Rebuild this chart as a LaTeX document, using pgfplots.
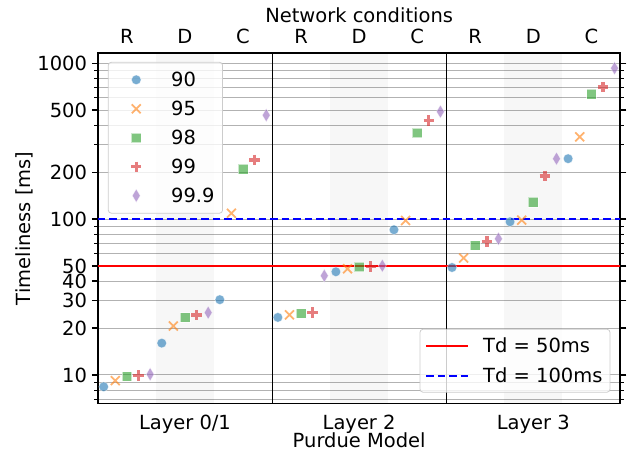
\documentclass[border=0pt]{standalone}
\usepackage{fontspec}
\setmainfont{DejaVu Sans}
\usepackage{pgfplots}
\pgfplotsset{compat=1.18}
\usetikzlibrary{calc}
\definecolor{tabblue}{HTML}{1F77B4}
\definecolor{taborange}{HTML}{FF7F0E}
\definecolor{tabgreen}{HTML}{2CA02C}
\definecolor{tabred}{HTML}{D62728}
\definecolor{tabpurple}{HTML}{9467BD}
\pgfplotsset{
  mk/.style={only marks, legend image code/.code={\path[draw=none,fill=none] (0pt,0pt) (55pt,0pt); \draw[sharp corners,##1] plot coordinates {(20pt,0pt)};}},
  ln/.style={legend image code/.code={\path[draw=none,fill=none] (0pt,0pt) (55.5pt,0pt); \draw[sharp corners,##1] (1pt,0pt) -- (43pt,0pt);}},
}
\begin{document}
\fontsize{19.5}{23.4}\selectfont
\begin{tikzpicture}
\begin{axis}[
  scale only axis, width=523pt, height=351pt,
  xmin=-0.5, xmax=44.5, ymode=log, ymin=6.55, ymax=1164,
  xtick={7,22,37}, xticklabels={Layer 0/1,Layer 2,Layer 3},
  xtick style={draw=none},
  xticklabel style={anchor=base, inner sep=0pt, yshift=-20pt},
  ytick={10,20,30,40,50,100,200,500,1000},
  yticklabels={10,20,30,40,50,100,200,500,1000},
  minor ytick={7,8,9,60,70,80,90,300,400,600,700,800,900},
  ymajorgrids, yminorgrids,
  major grid style={draw=black!30, line width=0.9pt},
  minor grid style={draw=black!30, line width=0.9pt},
  tick align=outside, major tick length=6pt, minor tick length=3.5pt,
  ytick style={line width=1.3pt, black},
  minor y tick style={line width=1pt},
  yticklabel style={anchor=east, inner sep=0pt, xshift=-4.7pt},
  axis line style={line width=1.8pt},
  xlabel={Purdue Model}, ylabel={Timeliness [ms]},
  xlabel style={at={(axis description cs:0.5,0)}, anchor=base, yshift=-44pt, inner sep=0pt},
  ylabel style={at={(axis description cs:-0.124,0.5)}, anchor=south, inner sep=0pt},
  legend cell align=left,
  legend style={at={(0.0191,0.9744)}, anchor=north west, draw=black!20, line width=0.8pt,
    rounded corners=3pt, fill=white, fill opacity=0.8, text opacity=1, draw opacity=1,
    inner xsep=8pt, inner ysep=10.5pt, row sep=15pt,
    nodes={inner sep=0pt, text height=14pt, text depth=0pt}},
]
% shaded D regions
\addplot[draw=none, fill=black, fill opacity=0.03, forget plot] coordinates {(4.5,6.55) (9.5,6.55) (9.5,1164) (4.5,1164)} -- cycle;
\addplot[draw=none, fill=black, fill opacity=0.03, forget plot] coordinates {(19.5,6.55) (24.5,6.55) (24.5,1164) (19.5,1164)} -- cycle;
\addplot[draw=none, fill=black, fill opacity=0.03, forget plot] coordinates {(34.5,6.55) (39.5,6.55) (39.5,1164) (34.5,1164)} -- cycle;
% layer separators
\addplot[black, line width=1pt, forget plot] coordinates {(14.5,6.55) (14.5,1164)};
\addplot[black, line width=1pt, forget plot] coordinates {(29.5,6.55) (29.5,1164)};
% thresholds
\addplot[red, line width=2.5pt, forget plot] coordinates {(-0.5,50) (44.5,50)};
\addplot[blue, line width=2pt, dash pattern=on 7.5pt off 4pt, forget plot] coordinates {(-0.5,100) (44.5,100)};
% percentiles
\addplot[mk, mark=*, mark size=4.8pt, mark options={fill=tabblue, draw=white, line width=0.5pt, opacity=0.6}]
  coordinates {(0,8.4) (5,16.0) (10,30.4) (15,23.4) (20,45.9) (25,85.4) (30,48.9) (35,96.1) (40,244)};
\addlegendentry{90}
\addplot[mk, mark=x, mark size=6.3pt, mark options={draw=taborange, line width=1.8pt, opacity=0.6}]
  coordinates {(1,9.2) (6,20.6) (11,109) (16,24.3) (21,48.0) (26,98) (31,56.2) (36,98.5) (41,337)};
\addlegendentry{95}
\addplot[mk, mark=square*, mark size=4.8pt, mark options={fill=tabgreen, draw=white, line width=0.5pt, opacity=0.6}]
  coordinates {(2,9.8) (7,23.4) (12,209) (17,24.8) (22,49.4) (27,357) (32,67.7) (37,128.5) (42,633)};
\addlegendentry{98}
\addplot[mk, mark=+, mark size=5.2pt, mark options={draw=tabred, line width=3.4pt, opacity=0.6}]
  coordinates {(3,9.94) (8,24.2) (13,240) (18,25.1) (23,49.7) (28,428) (33,71.9) (38,189.5) (43,702)};
\addlegendentry{99}
\addplot[mk, mark=diamond*, mark size=6.6pt, mark options={fill=tabpurple, draw=white, line width=0.5pt, opacity=0.6, xscale=0.8}]
  coordinates {(4,10.1) (9,25.1) (14,464) (19,43.3) (24,50.2) (29,489) (34,74.8) (39,244) (44,929)};
\addlegendentry{99.9}
\end{axis}
\begin{axis}[
  scale only axis, width=523pt, height=351pt,
  xmin=-0.5, xmax=44.5, ymode=log, ymin=6.55, ymax=1164,
  hide y axis,
  axis x line*=top,
  axis line style={line width=1.8pt},
  xtick={2,7,12,17,22,27,32,37,42}, xticklabels={R,D,C,R,D,C,R,D,C},
  xtick style={draw=none},
  xticklabel style={anchor=base, inner sep=0pt, yshift=9pt},
  xlabel={Network conditions},
  xlabel style={at={(axis description cs:0.5,1)}, anchor=base, yshift=30pt, inner sep=0pt},
  legend cell align=left,
  legend style={at={(0.9809,0.0313)}, anchor=south east, draw=black!20, line width=0.8pt,
    rounded corners=3pt, fill=white, fill opacity=0.8, text opacity=1, draw opacity=1,
    inner xsep=5pt, inner ysep=9.5pt, row sep=16pt,
    nodes={inner xsep=2.5pt, inner ysep=0pt, text height=14pt, text depth=0pt}},
]
\addlegendimage{ln, red, line width=2.5pt}
\addlegendentry{Td = 50ms}
\addlegendimage{ln, blue, line width=2pt, dash pattern=on 7.5pt off 4pt}
\addlegendentry{Td = 100ms}
\end{axis}
\path ($(current axis.south west)+(-98pt,-49pt)$) rectangle ($(current axis.north east)+(6pt,53pt)$);
\end{tikzpicture}
\end{document}
